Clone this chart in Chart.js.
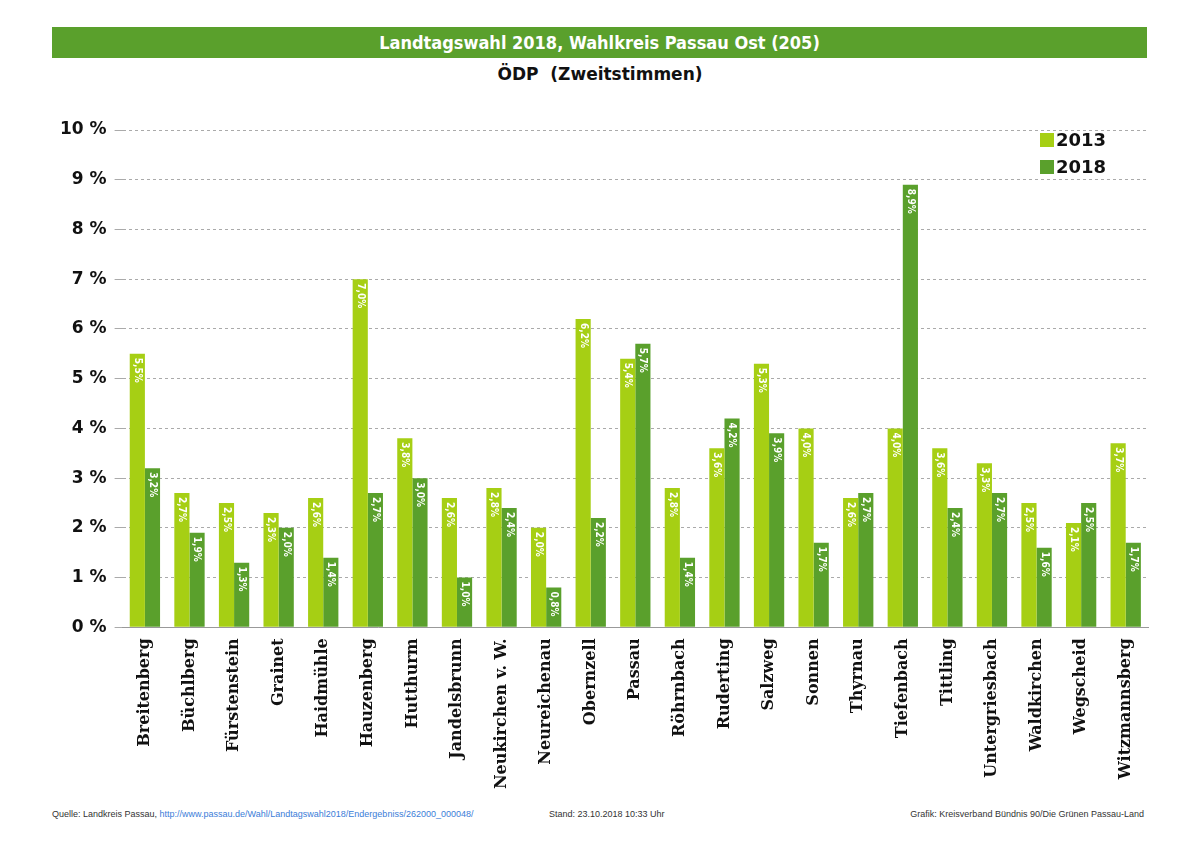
<!DOCTYPE html>
<html><head><meta charset="utf-8">
<script src="https://cdn.jsdelivr.net/npm/chart.js@4"></script>
<style>
body{margin:0;background:#fff;width:1200px;height:848px;position:relative;font-family:"DejaVu Sans",sans-serif}
#titel{position:absolute;left:52px;top:27px;width:1095px;height:31px;background:#5aa02c;color:#fff;font:bold 18px "DejaVu Sans Condensed","DejaVu Sans";text-align:center;line-height:31px}
#unter{position:absolute;left:0;top:64px;width:1200px;text-align:center;font:bold 17px "DejaVu Sans";color:#111}
#box{position:absolute;left:0;top:100px;width:1200px;height:700px}
.fuss{position:absolute;top:809px;font:9px "Liberation Sans Narrow","Liberation Sans";color:#333}
.fuss a{color:#3b7dd8;text-decoration:none}
</style></head><body>
<div id="titel">Landtagswahl 2018, Wahlkreis Passau Ost (205)</div>
<div id="unter">ÖDP&nbsp; (Zweitstimmen)</div>
<div id="box"><canvas id="grafik"></canvas></div>
<div class="fuss" style="left:52px">Quelle: Landkreis Passau, <a>http://www.passau.de/Wahl/Landtagswahl2018/Endergebniss/262000_000048/</a></div>
<div class="fuss" style="left:549px">Stand: 23.10.2018 10:33 Uhr</div>
<div class="fuss" style="right:56px">Grafik: Kreisverband Bündnis 90/Die Grünen Passau-Land</div>
<script>
const gemeinden = ['Breitenberg','Büchlberg','Fürstenstein','Grainet','Haidmühle','Hauzenberg','Hutthurm','Jandelsbrunn','Neukirchen v. W.','Neureichenau','Obernzell','Passau','Röhrnbach','Ruderting','Salzweg','Sonnen','Thyrnau','Tiefenbach','Tittling','Untergriesbach','Waldkirchen','Wegscheid','Witzmannsberg'];
const werte2013 = [5.5,2.7,2.5,2.3,2.6,7.0,3.8,2.6,2.8,2.0,6.2,5.4,2.8,3.6,5.3,4.0,2.6,4.0,3.6,3.3,2.5,2.1,3.7];
const werte2018 = [3.2,1.9,1.3,2.0,1.4,2.7,3.0,1.0,2.4,0.8,2.2,5.7,1.4,4.2,3.9,1.7,2.7,8.9,2.4,2.7,1.6,2.5,1.7];
const farbe2013 = '#a6cf14';
const farbe2018 = '#5aa02c';

const balkenText = {
  id: 'balkenText',
  afterDatasetsDraw(chart) {
    const ctx = chart.ctx;
    ctx.save();
    ctx.fillStyle = '#fff';
    ctx.font = 'bold 10px "DejaVu Sans Condensed"';
    ctx.textBaseline = 'middle';
    chart.data.datasets.forEach((ds, i) => {
      chart.getDatasetMeta(i).data.forEach((bar, j) => {
        ctx.save();
        ctx.translate(bar.x, bar.y + 4);
        ctx.rotate(Math.PI / 2);
        ctx.textAlign = 'left';
        ctx.fillText(ds.data[j].toFixed(1).replace('.', ',') + '%', 0, 0);
        ctx.restore();
      });
    });
    // Legende
    ctx.textAlign = 'left';
    ctx.font = 'bold 18px "DejaVu Sans"';
    chart.data.datasets.forEach((ds, i) => {
      const y = chart.chartArea.top + 10 + i * 27;
      ctx.fillStyle = ds.backgroundColor;
      ctx.fillRect(1040, y - 7, 14, 14);
      ctx.fillStyle = '#111';
      ctx.fillText(ds.label, 1056, y + 1);
    });
    ctx.restore();
  }
};

new Chart(document.getElementById('grafik'), {
  type: 'bar',
  data: {
    labels: gemeinden,
    datasets: [
      { label: '2013', data: werte2013, backgroundColor: farbe2013 },
      { label: '2018', data: werte2018, backgroundColor: farbe2018 }
    ]
  },
  options: {
    responsive: true,
    maintainAspectRatio: false,
    animation: false,
    layout: { padding: { left: 52, right: 52, top: 30, bottom: 8 } },
    datasets: { bar: { categoryPercentage: 0.68, barPercentage: 1 } },
    plugins: { legend: { display: false }, tooltip: { enabled: false } },
    scales: {
      x: {
        grid: { display: false },
        border: { color: '#999' },
        ticks: { minRotation: 90, maxRotation: 90, color: '#111', font: { family: 'DejaVu Serif', weight: 'bold', size: 16 } }
      },
      y: {
        min: 0, max: 10,
        border: { display: false, dash: [3, 3] },
        grid: { color: '#aaa' },
        ticks: { stepSize: 1, color: '#111', padding: 8, font: { family: 'DejaVu Sans', weight: 'bold', size: 17 }, callback: v => v + ' %' }
      }
    }
  },
  plugins: [balkenText]
});
</script>
</body></html>
